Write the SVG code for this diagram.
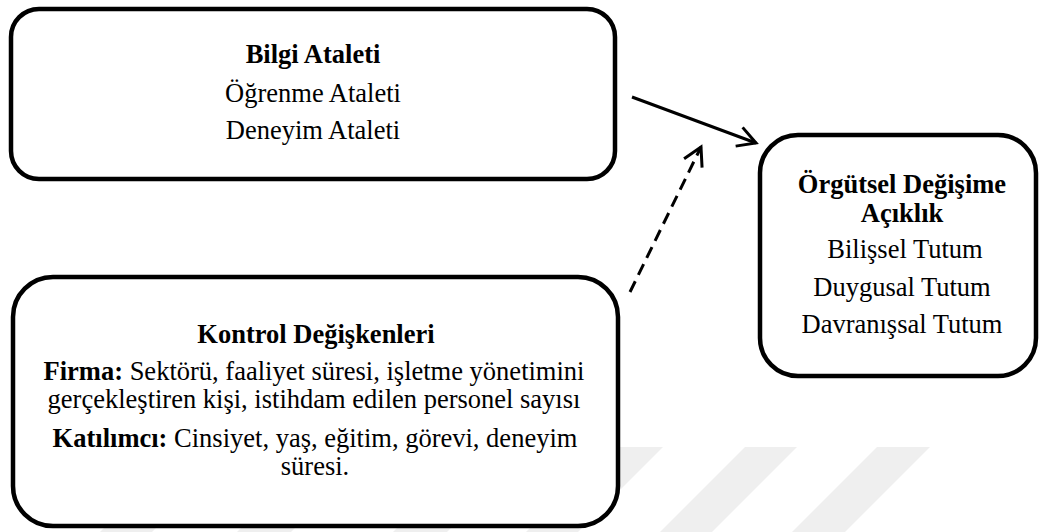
<svg xmlns="http://www.w3.org/2000/svg" width="1040" height="532" viewBox="0 0 1040 532">
<style>
.box{fill:#ffffff;stroke:#000000;stroke-width:4.5}
.t{font-family:'Liberation Serif','DejaVu Serif',serif;font-size:26.5px;fill:#000000;text-anchor:middle}
.b{font-weight:bold}
.con{stroke:#000000;stroke-width:3;fill:none}
.stripe{fill:#efefef}
</style>
<defs>
<marker id="chev" markerUnits="userSpaceOnUse" viewBox="-22 -13 26 26" markerWidth="26" markerHeight="26" refX="0" refY="0" orient="auto">
<path d="M-18,-10 L0,0 L-18,10" fill="none" stroke="#000000" stroke-width="3" stroke-linejoin="miter"/>
</marker>
</defs>
<rect width="1040" height="532" fill="#ffffff"/>
<g id="watermark">
<polygon class="stripe" points="185,447 237,447 152,532 100,532"/>
<polygon class="stripe" points="322,447 376,447 291,532 237,532"/>
<polygon class="stripe" points="478,447 532,447 447,532 393,532"/>
<polygon class="stripe" points="611,447 663,447 578,532 526,532"/>
<polygon class="stripe" points="745,447 797,447 712,532 660,532"/>
<polygon class="stripe" points="877,447 930,447 845,532 792,532"/>
</g>
<g id="connectors">
<line class="con" x1="632" y1="97" x2="756" y2="143" marker-end="url(#chev)"/>
<line class="con" x1="630" y1="292" x2="701" y2="147" stroke-dasharray="12,7" marker-end="url(#chev)"/>
</g>
<g id="node-bilgi">
<rect class="box" x="11" y="9" width="604" height="170" rx="28"/>
<text class="t b" x="313" y="63">Bilgi Ataleti</text>
<text class="t" x="313" y="102">Öğrenme Ataleti</text>
<text class="t" x="313" y="139">Deneyim Ataleti</text>
</g>
<g id="node-kontrol">
<rect class="box" x="13" y="277" width="605" height="249" rx="40"/>
<text class="t b" x="316" y="343">Kontrol Değişkenleri</text>
<text class="t" x="314" y="380"><tspan class="b">Firma:</tspan> Sektörü, faaliyet süresi, işletme yönetimini</text>
<text class="t" x="314" y="408">gerçekleştiren kişi, istihdam edilen personel sayısı</text>
<text class="t" x="315" y="447"><tspan class="b">Katılımcı:</tspan> Cinsiyet, yaş, eğitim, görevi, deneyim</text>
<text class="t" x="315" y="475">süresi.</text>
</g>
<g id="node-orgutsel">
<rect class="box" x="760" y="135" width="276" height="241" rx="38"/>
<text class="t b" x="902" y="193">Örgütsel Değişime</text>
<text class="t b" x="902" y="222">Açıklık</text>
<text class="t" x="905" y="258">Bilişsel Tutum</text>
<text class="t" x="902" y="296">Duygusal Tutum</text>
<text class="t" x="902" y="333">Davranışsal Tutum</text>
</g>
</svg>
